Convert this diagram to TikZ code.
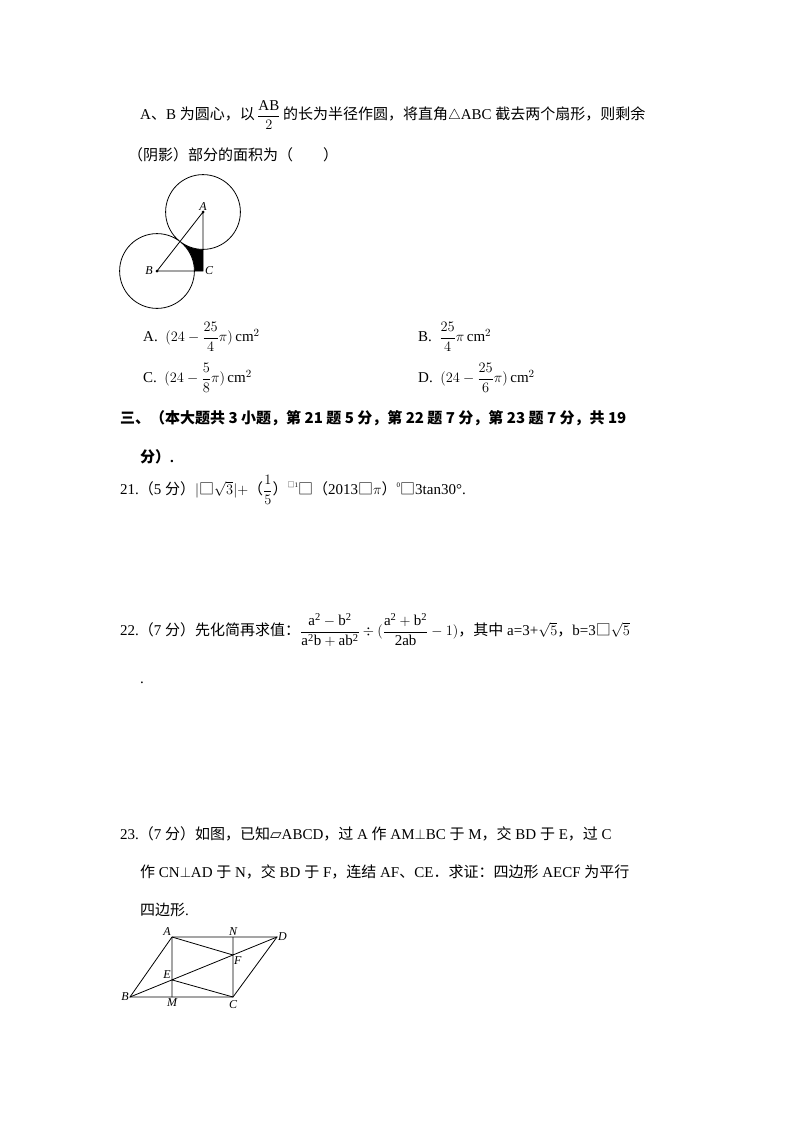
\documentclass[tikz,border=0pt]{standalone}
\usepackage{fontspec}
\setmainfont{Liberation Serif}
\newfontfamily\cjk{Noto Sans CJK SC}
\newfontfamily\djv{DejaVu Sans}
\newcommand{\dfr}[2]{{\displaystyle\frac{#1}{#2}}}
\begin{document}
\begin{tikzpicture}[x=1pt,y=-1pt,
  txt/.style={anchor=west,inner sep=0pt,font=\fontsize{15}{18}\selectfont},
  lbl/.style={inner sep=1pt,font=\fontsize{12}{13}\selectfont\itshape},
  geo/.style={line width=0.8pt}]
\useasboundingbox (0,0) rectangle (800,1132);
\fill[white] (0,0) rectangle (800,1132);
% question top text
\node[txt] (l1) at (140,115) {A{\cjk 、}B {\cjk 为圆心，以}\,$\dfr{\mathrm{AB}}{2}$\,{\cjk 的长为半径作圆，将直角}$\triangle$ABC {\cjk 截去两个扇形，则剩余}};
\node[txt] (l2) at (128,155) {\cjk （阴影）部分的面积为（\qquad）};
% figure 1
\coordinate (A) at (203,212);
\coordinate (B) at (157,271);
\coordinate (C) at (203,271);
\fill[black] (A) -- (B) -- (C) -- cycle;
\fill[white] (A) circle (37.4);
\fill[white] (B) circle (37.4);
\draw[geo] (A) circle (37.4) (B) circle (37.4);
\draw[geo] (A) -- (B) -- (C) -- cycle;
\fill (A) circle (1.5) (B) circle (1.5);
\node[lbl,above] (la) at (A) {A};
\node[lbl,left=3pt] (lb) at (B) {B};
\node[lbl,right=1pt] (lc) at (C) {C};
% options
\node[txt] (oA) at (143,337) {A.\ \ $(24-\dfr{25}{4}\pi)\,\mathrm{cm}^2$};
\node[txt] (oB) at (418,337) {B.\ \ $\dfr{25}{4}\pi\,\mathrm{cm}^2$};
\node[txt] (oC) at (143,378) {C.\ \ $(24-\dfr{5}{8}\pi)\,\mathrm{cm}^2$};
\node[txt] (oD) at (418,378) {D.\ \ $(24-\dfr{25}{6}\pi)\,\mathrm{cm}^2$};
% section
\node[txt,font=\fontsize{15}{18}\selectfont\bfseries] (s1) at (120,418) {\cjk\bfseries 三、（本大题共 \textbf{3} 小题，第 \textbf{21} 题 \textbf{5} 分，第 \textbf{22} 题 \textbf{7} 分，第 \textbf{23} 题 \textbf{7} 分，共 \textbf{19}};
\node[txt] (s2) at (140,457) {{\cjk\bfseries 分）}\textbf{.}};
% 21
\node[txt] (q21) at (120,490) {21.{\cjk （}5 {\cjk 分）}$|${\cjk □}$\sqrt{3}|+${\cjk （}$\dfr{1}{5}${\cjk ）}\raisebox{1ex}{\scriptsize{\cjk □}1}{\cjk □（}2013{\cjk □}$\pi${\cjk ）}\raisebox{1ex}{\scriptsize 0}{\cjk □}3tan30°.};
% 22
\node[txt] (q22) at (120,630) {22.{\cjk （}7 {\cjk 分）先化简再求值：}$\dfr{\mathrm{a^2-b^2}}{\mathrm{a^2b+ab^2}}\div(\dfr{\mathrm{a^2+b^2}}{\mathrm{2ab}}-1)${\cjk ，其中} a=3+$\sqrt{5}${\cjk ，}b=3{\cjk □}$\sqrt{5}$};
\node[txt] (dot) at (140,683) {.};
% 23
\node[txt] (q23a) at (120,834) {23.{\cjk （}7 {\cjk 分）如图，已知}{\djv ▱}ABCD{\cjk ，过} A {\cjk 作} AM$\perp$BC {\cjk 于} M{\cjk ，交} BD {\cjk 于} E{\cjk ，过} C};
\node[txt] (q23b) at (140,872) {{\cjk 作} CN$\perp$AD {\cjk 于} N{\cjk ，交} BD {\cjk 于} F{\cjk ，连结} AF{\cjk 、}CE{\cjk ．求证：四边形} AECF {\cjk 为平行}};
\node[txt] (q23c) at (140,910) {{\cjk 四边形}.};
% figure 2
\coordinate (PA) at (172,937);
\coordinate (PN) at (233,937);
\coordinate (PD) at (277,937);
\coordinate (PB) at (130,997);
\coordinate (PM) at (172,997);
\coordinate (PC) at (233,997);
\coordinate (PE) at (172,979.9);
\coordinate (PF) at (233,955);
\draw[geo] (PA) -- (PD) -- (PC) -- (PB) -- cycle;
\draw[geo] (PA) -- (PM) (PN) -- (PC) (PB) -- (PD) (PA) -- (PF) (PC) -- (PE);
\node[lbl,above left] (nA) at (PA) {A};
\node[lbl,above] (nN) at (PN) {N};
\node[lbl,right] (nD) at (PD) {D};
\node[lbl,left] (nB) at (PB) {B};
\node[lbl,below] (nM) at (PM) {M};
\node[lbl,below=2pt] (nC) at (PC) {C};
\node[lbl,above left] (nE) at (PE) {E};
\node[lbl,below right] (nF) at (PF) {F};
\end{tikzpicture}
\end{document}
